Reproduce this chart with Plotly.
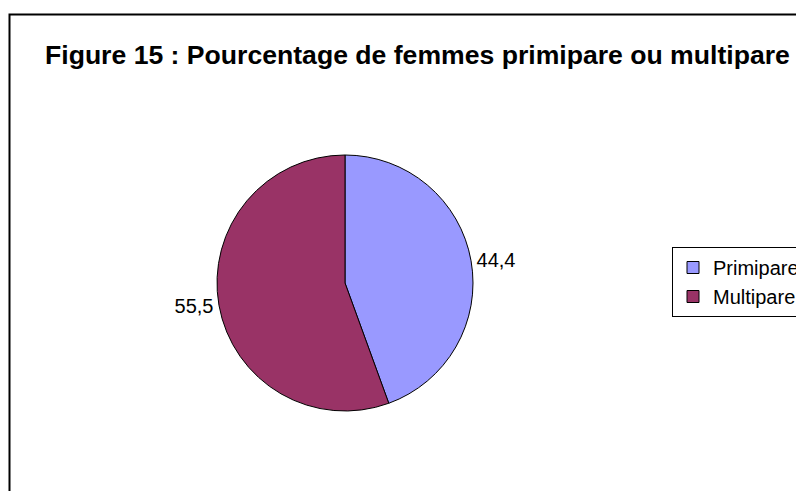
import plotly.graph_objects as go

categories = ["Primipare", "Multipare"]
values = [44.4, 55.5]
colors = ["#9999FF", "#993366"]
title_text = "Figure 15 : Pourcentage de femmes primipare ou multipare"

# figure is wider than the window so the legend runs past the right edge,
# as in the reference; page margin removed and overflow hidden.
FW, FH = 840, 491


def px(x):
    return x / FW


def py(y):
    return 1 - y / FH


cx, cy, r = 345, 283, 128

fig = go.Figure(go.Pie(
    labels=categories,
    values=values,
    sort=False,
    direction="clockwise",
    rotation=0,
    marker=dict(colors=colors, line=dict(color="black", width=1)),
    textposition="outside",
    texttemplate="%{value:.1f}",
    textfont=dict(family="Liberation Sans, Arial", size=20, color="black"),
    showlegend=True,
    hoverinfo="label+value",
    domain=dict(x=[px(cx - r), px(cx + r)], y=[py(cy + r), py(cy - r)]),
))

fig.update_layout(
    width=FW, height=FH,
    margin=dict(l=0, r=0, t=0, b=0),
    paper_bgcolor="white",
    separators=", ",
    font=dict(family="Liberation Sans, Arial", color="black"),
    title=dict(text="<b>" + title_text + "</b>", x=px(45), xanchor="left",
               y=py(54.5), yanchor="middle",
               font=dict(size=26.6, family="Liberation Sans, Arial", color="black")),
    legend=dict(x=px(672), xanchor="left", y=py(247), yanchor="top",
                bgcolor="white", bordercolor="black", borderwidth=1,
                font=dict(size=20, family="Liberation Sans, Arial", color="black"),
                itemwidth=30),
    shapes=[dict(type="rect", xref="paper", yref="paper",
                 x0=px(9.5), x1=1.2, y0=-0.2, y1=py(14.5),
                 line=dict(color="black", width=2), layer="above")],
)

fig.write_html(
    "out.html",
    config={"displayModeBar": False},
    post_script="document.body.style.margin='0';document.body.style.overflow='hidden';",
)
